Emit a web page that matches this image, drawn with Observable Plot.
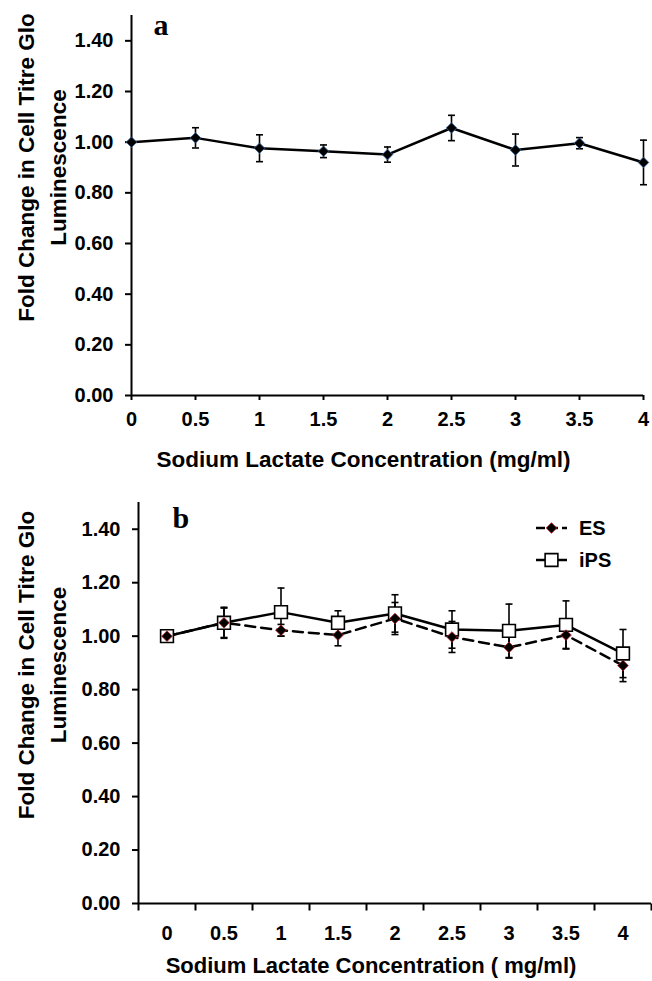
<!DOCTYPE html>
<html>
<head>
<meta charset="utf-8">
<script src="https://cdn.jsdelivr.net/npm/d3@7"></script>
<script src="https://cdn.jsdelivr.net/npm/@observablehq/plot@0.6"></script>
<style>
  html, body { margin: 0; padding: 0; background: #fff; }
  #wrap { position: relative; width: 652px; height: 981px; overflow: hidden; }
  #wrap svg { display: block; }
  #wrap svg [aria-label*="axis"] path, #wrap svg [aria-label*="axis"] line { stroke-width: 2px; }
</style>
</head>
<body>
<div id="wrap"></div>
<script>
// ---- data ----
const concentrations = [0, 0.5, 1, 1.5, 2, 2.5, 3, 3.5, 4];
const panelAMean = [1.00, 1.017, 0.976, 0.964, 0.951, 1.056, 0.969, 0.996, 0.920];
const panelAErr  = [0.00, 0.040, 0.053, 0.025, 0.030, 0.050, 0.063, 0.022, 0.088];
const esMean  = [1.00, 1.050, 1.022, 1.004, 1.066, 0.997, 0.958, 1.004, 0.890];
const esErr   = [0.00, 0.058, 0.022, 0.040, 0.060, 0.058, 0.040, 0.050, 0.060];
const ipsMean = [1.00, 1.050, 1.090, 1.050, 1.085, 1.025, 1.020, 1.042, 0.935];
const ipsErr  = [0.00, 0.055, 0.090, 0.045, 0.070, 0.070, 0.100, 0.090, 0.090];
const yTicks = [0, 0.2, 0.4, 0.6, 0.8, 1.0, 1.2, 1.4];
const yTitle = "Fold Change in Cell Titre Glo\nLuminescence";
const xTitleA = "Sodium Lactate Concentration (mg/ml)";
const xTitleB = "Sodium Lactate Concentration ( mg/ml)";
const seriesNames = ["ES", "iPS"];

const mk = (means, errs) => concentrations.map((c, i) => ({c, m: means[i], e: errs[i]}));
const dataA = mk(panelAMean, panelAErr);
const dataES = mk(esMean, esErr);
const dataIPS = mk(ipsMean, ipsErr);

// custom symbols
const hline = { draw(ctx, size) { const r = Math.sqrt(size / Math.PI); ctx.moveTo(-r, 0); ctx.lineTo(r, 0); } };
const vtick = { draw(ctx, size) { const r = Math.sqrt(size / Math.PI); ctx.moveTo(0, 0); ctx.lineTo(0, 2 * r); } };

const font = "'Liberation Sans', Arial, sans-serif";
const baseStyle = { fontFamily: font, fontWeight: "bold", fontSize: "20px", color: "black", background: "white", overflow: "visible" };

function errMarks(data, sw) {
  const d = data.filter(v => v.e > 0);
  return [
    Plot.ruleX(d, {x: "c", y1: v => v.m - v.e, y2: v => v.m + v.e, stroke: "black", strokeWidth: sw}),
    Plot.dot(d, {x: "c", y: v => v.m + v.e, symbol: hline, r: 3.5, stroke: "black", strokeWidth: sw}),
    Plot.dot(d, {x: "c", y: v => v.m - v.e, symbol: hline, r: 3.5, stroke: "black", strokeWidth: sw})
  ];
}

// ---- panel a ----
const chartA = Plot.plot({
  width: 652, height: 475,
  marginTop: 15, marginBottom: 80, marginLeft: 131, marginRight: 9,
  style: baseStyle,
  x: {domain: [0, 4], ticks: concentrations, tickFormat: d => String(d), tickSize: 5, tickPadding: 11, label: null},
  y: {domain: [0, 1.5], ticks: yTicks, tickFormat: d => d.toFixed(2), tickSize: 6, tickPadding: 12, label: null},
  marks: [
    Plot.ruleY([0], {stroke: "black", strokeWidth: 2}),
    Plot.ruleX([0], {stroke: "black", strokeWidth: 2}),
    ...errMarks(dataA, 1.6),
    Plot.line(dataA, {x: "c", y: "m", stroke: "black", strokeWidth: 2.5}),
    Plot.dot(dataA, {x: "c", y: "m", symbol: "diamond2", r: 4.8, fill: "black", stroke: "#3a6ea5", strokeWidth: 0.8}),
    Plot.text(["a"], {frameAnchor: "top-left", dx: 22, dy: 10, textAnchor: "start", lineAnchor: "middle",
      fontFamily: "'Liberation Serif', 'Times New Roman', serif", fontWeight: "bold", fontSize: 30, fill: "black"}),
    Plot.text([yTitle], {frameAnchor: "left", rotate: -90, dx: -92, dy: -38, lineAnchor: "middle", textAnchor: "middle",
      lineHeight: 1.42, fontSize: 22.5, fill: "black"}),
    Plot.text([xTitleA], {frameAnchor: "bottom", dx: -24, dy: 64, lineAnchor: "middle", textAnchor: "middle",
      fontSize: 22.5, fill: "black"})
  ]
});

// ---- panel b ----
const boundaries = concentrations.map(c => c - 0.25).concat([concentrations[concentrations.length - 1] + 0.25]);
const chartB = Plot.plot({
  width: 652, height: 506,
  marginTop: 27, marginBottom: 78, marginLeft: 138, marginRight: 1,
  style: baseStyle,
  x: {domain: [-0.25, 4.25], ticks: concentrations, tickFormat: d => String(d), tickSize: 0, tickPadding: 22, label: null},
  y: {domain: [0, 1.5], ticks: yTicks, tickFormat: d => d.toFixed(2), tickSize: 6, tickPadding: 12, label: null},
  marks: [
    Plot.ruleY([0], {stroke: "black", strokeWidth: 2}),
    Plot.ruleX([-0.25], {stroke: "black", strokeWidth: 2}),
    Plot.dot(boundaries, {x: d => d, y: () => 0, symbol: vtick, r: 3.5, stroke: "black", strokeWidth: 2}),
    ...errMarks(dataIPS, 1.6),
    ...errMarks(dataES, 1.6),
    Plot.line(dataES, {x: "c", y: "m", stroke: "black", strokeWidth: 2.5, strokeDasharray: "10,6"}),
    Plot.line(dataIPS, {x: "c", y: "m", stroke: "black", strokeWidth: 2.5}),
    Plot.dot(dataIPS, {x: "c", y: "m", symbol: "square", r: 7.2, fill: "white", stroke: "black", strokeWidth: 1.6}),
    Plot.dot(dataES, {x: "c", y: "m", symbol: "diamond2", r: 4.8, fill: "black", stroke: "#c0202a", strokeWidth: 0.8}),
    Plot.text(["b"], {frameAnchor: "top-left", dx: 34, dy: 16, textAnchor: "start", lineAnchor: "middle",
      fontFamily: "'Liberation Serif', 'Times New Roman', serif", fontWeight: "bold", fontSize: 30, fill: "black"}),
    Plot.text([yTitle], {frameAnchor: "left", rotate: -90, dx: -99, dy: -38, lineAnchor: "middle", textAnchor: "middle",
      lineHeight: 1.42, fontSize: 22.5, fill: "black"}),
    Plot.text([xTitleB], {frameAnchor: "bottom", dx: -24, dy: 62, lineAnchor: "middle", textAnchor: "middle",
      fontSize: 22, fill: "black"})
  ]
});

const wrap = document.getElementById("wrap");
wrap.appendChild(chartA);
wrap.appendChild(chartB);

// ---- legend for panel b ----
const leg = d3.create("svg").attr("width", 652).attr("height", 981)
  .style("position", "absolute").style("left", "0px").style("top", "0px");
const rows = [
  {name: seriesNames[0], y: 528, dash: true, sym: d3.symbolDiamond2, fill: "black", stroke: "#c0202a", r: 4.8, sw: 0.8},
  {name: seriesNames[1], y: 560, dash: false, sym: d3.symbolSquare, fill: "white", stroke: "black", r: 7.2, sw: 1.6}
];
rows.forEach(r => {
  const g = leg.append("g");
  g.append("line").attr("x1", 536).attr("x2", 567).attr("y1", r.y).attr("y2", r.y)
    .attr("stroke", "black").attr("stroke-width", 2.5).attr("stroke-dasharray", r.dash ? "9,4" : null);
  g.append("path").attr("transform", `translate(551.5,${r.y})`)
    .attr("d", d3.symbol(r.sym, Math.PI * r.r * r.r)())
    .attr("fill", r.fill).attr("stroke", r.stroke).attr("stroke-width", r.sw);
  g.append("text").attr("x", 579).attr("y", r.y).attr("dy", "0.35em")
    .attr("font-family", font).attr("font-weight", "bold").attr("font-size", 20).attr("fill", "black").text(r.name);
});
wrap.appendChild(leg.node());
</script>
</body>
</html>
